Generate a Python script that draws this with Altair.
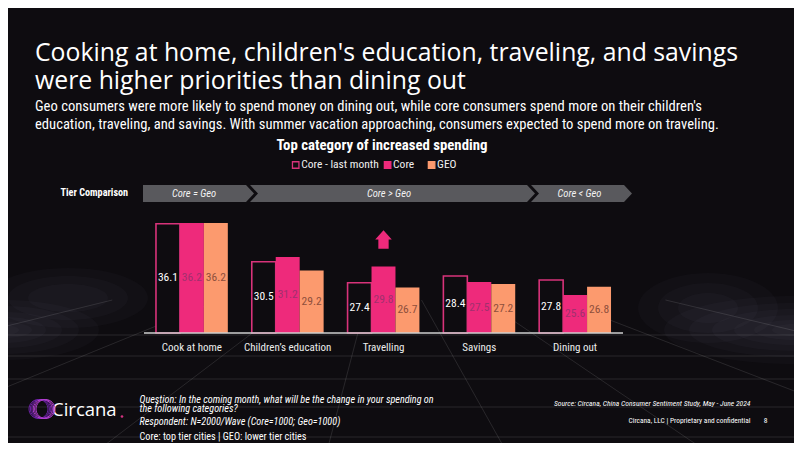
import altair as alt
import pandas as pd

# ---------------- data ----------------
categories = ["Cook at home", "Children’s education", "Travelling", "Savings", "Dining out"]
series = ["Core - last month", "Core", "GEO"]
core_last_month = [36.1, 30.5, 27.4, 28.4, 27.8]
core = [36.2, 31.2, 29.8, 27.5, 25.6]
geo = [36.2, 29.2, 26.7, 27.2, 26.8]
tiers = ["Core = Geo", "Core > Geo", "Core < Geo"]
arrow_category = "Travelling"
arrow_series = "Core"

title_lines = [
    "Cooking at home, children's education, traveling, and savings",
    "were higher priorities than dining out",
]
subtitle_lines = [
    "Geo consumers were more likely to spend money on dining out, while core consumers spend more on their children's",
    "education, traveling, and savings. With summer vacation approaching, consumers expected to spend more on traveling.",
]
chart_title = "Top category of increased spending"
footer_question = [
    "Question: In the coming month, what will be the change in your spending on",
    "the following categories?",
]
footer_resp = "Respondent: N=2000/Wave  (Core=1000; Geo=1000)"
footer_core = "Core: top tier cities | GEO: lower tier cities"
source_text = "Source: Circana, China Consumer Sentiment Study, May - June 2024"
conf_text = "Circana, LLC  |  Proprietary and confidential"
page_no = "8"

rows = []
for i, c in enumerate(categories):
    for s, vals in zip(series, [core_last_month, core, geo]):
        rows.append({"Category": c, "Series": s, "Value": vals[i]})
df = pd.DataFrame(rows)

# ---------------- style ----------------
BG = "#0e0c10"
PINK = "#ee2a7b"
SALMON = "#fc9a6e"
OUTLINE = "#d8337a"
NARROW = "Roboto Condensed, Roboto, sans-serif"
TITLE_FONT = "Open Sans, sans-serif"
W, H = 786, 435

xscale = alt.Scale(domain=categories, range=[136, 615], paddingInner=0.25, paddingOuter=0.125)
yscale = alt.Scale(domain=[20, 40], range=[325, 189.2])
xoff = alt.Scale(domain=series, paddingInner=0, paddingOuter=0)

X = alt.X("Category:N", scale=xscale, axis=None, sort=categories)
XO = alt.XOffset("Series:N", scale=xoff, sort=series)

base = alt.Chart(df)
one = pd.DataFrame({"a": [0]})


def ellipse(rx, ry):
    return f"M{-rx},0 A{rx},{ry} 0 1,0 {rx},0 A{rx},{ry} 0 1,0 {-rx},0 Z"


# smoky glows (decoration)
glows = []
for cx, cy, sizes in [(-4, 322, [(95, 30), (75, 24), (58, 18), (42, 13), (28, 8), (15, 5)]),
                      (786, 322, [(130, 34), (105, 27), (82, 21), (60, 15), (40, 10), (22, 6)]),
                      (60, 290, [(80, 30), (60, 22), (40, 14)]),
                      (700, 300, [(70, 35), (50, 25), (30, 15)])]:
    for rx, ry in sizes:
        glows.append(
            alt.Chart(one).mark_point(
                shape=ellipse(rx, ry), size=4, filled=True, fill="#b8a8cc", opacity=0.028, strokeWidth=0
            ).encode(x=alt.value(cx), y=alt.value(cy))
        )

# background perspective grid (decoration)
vp = (384, 233)
bottoms = [-500, -150, 97, 327, 506, 706, 950, 1300]
segs = []
for xb in bottoms:
    t = (300 - vp[1]) / (451 - vp[1])
    x_top = vp[0] + (xb - vp[0]) * t
    segs.append(f"M{x_top - 8:.1f},{300 - 8} L{xb - 8:.1f},{451 - 8}")
for yy in [335, 356, 379, 407, 437]:
    segs.append(f"M-10,{yy - 8} L800,{yy - 8}")
grid_path = " ".join(segs)
grid = alt.Chart(one).mark_point(
    shape=grid_path, size=4, filled=False, stroke="#ffffff", strokeOpacity=0.11, strokeWidth=1, opacity=1
).encode(x=alt.value(0), y=alt.value(0))

# tier chevrons
chev_path = (
    "M135,177 L238,177 L246,185.5 L238,194 L135,194 Z "
    "M242,177 L519,177 L527,185.5 L519,194 L242,194 L250,185.5 Z "
    "M523,177 L616,177 L624,185.5 L616,194 L523,194 L531,185.5 Z"
)
chev = alt.Chart(one).mark_point(
    shape=chev_path, size=4, filled=True, fill="#59595d", strokeWidth=0, opacity=1
).encode(x=alt.value(0), y=alt.value(0))

tier_x = [186, 381, 571.5]
tier_layers = [
    alt.Chart(pd.DataFrame({"Tier": [t]})).mark_text(
        font=NARROW, fontSize=10.5, fontStyle="italic", color="#f2f2f2", baseline="middle", align="center"
    ).encode(x=alt.value(xx), y=alt.value(185.5), text="Tier:N")
    for t, xx in zip(tiers, tier_x)
]
tier_label = alt.Chart(pd.DataFrame({"t": ["Tier Comparison"]})).mark_text(
    font=NARROW, fontSize=10.2, fontWeight="bold", color="#ffffff", align="left", baseline="middle"
).encode(x=alt.value(52.5), y=alt.value(185), text="t:N")

# bars
bars = base.transform_filter(alt.datum.Series != "Core - last month").mark_bar().encode(
    x=X, xOffset=XO,
    y=alt.Y("Value:Q", scale=yscale, axis=None),
    y2=alt.datum(20),
    fill=alt.Fill("Series:N", scale=alt.Scale(domain=series, range=[BG, PINK, SALMON]), legend=None),
)
outline = base.transform_filter(alt.datum.Series == "Core - last month").mark_bar(
    fill=BG, stroke=OUTLINE, strokeWidth=1.6
).encode(
    x=X, xOffset=XO,
    y=alt.Y("Value:Q", scale=yscale, axis=None),
    y2=alt.datum(20),
)
labels = base.transform_calculate(mid="(datum.Value + 20) / 2").mark_text(
    font=NARROW, fontSize=11.5, baseline="middle"
).encode(
    x=X, xOffset=XO,
    y=alt.Y("mid:Q", scale=yscale, axis=None),
    text=alt.Text("Value:Q", format=".1f"),
    color=alt.Color("Series:N", scale=alt.Scale(domain=series, range=["#ffffff", "#a1306e", "#8e4f3c"]), legend=None),
)
baseline = alt.Chart(one).mark_rule(color="#cfcfcf", strokeWidth=1.5).encode(
    x=alt.value(136), x2=alt.value(615), y=alt.datum(20)
)
cat_labels = alt.Chart(pd.DataFrame({"Category": categories})).mark_text(
    font=NARROW, fontSize=11, color="#ececec", baseline="middle"
).encode(x=X, y=alt.value(340), text="Category:N")

arrow_shape = "M0,-1 L0.9,0 L0.56,0 L0.56,1 L-0.56,1 L-0.56,0 L-0.9,0 Z"
arrow = alt.Chart(pd.DataFrame({"Category": [arrow_category], "Series": [arrow_series]})).mark_point(
    shape=arrow_shape, size=339, filled=True, fill=PINK, strokeWidth=0, opacity=1
).encode(x=X, xOffset=XO, y=alt.datum(33.77))

# legend (manual)
leg_sym_x = [287.7, 379.6, 423.6]
leg_layers = []
for s, xx, f, st in zip(series, leg_sym_x, [BG, PINK, SALMON], [OUTLINE, PINK, SALMON]):
    leg_layers.append(
        alt.Chart(one).mark_point(
            shape="square", size=42, filled=True, fill=f, stroke=st, strokeWidth=1.3, opacity=1
        ).encode(x=alt.value(xx), y=alt.value(157))
    )
    leg_layers.append(
        alt.Chart(pd.DataFrame({"s": [s]})).mark_text(
            font=NARROW, fontSize=11.5, color="#f0f0f0", align="left", baseline="middle"
        ).encode(x=alt.value(xx + 5.5), y=alt.value(157), text="s:N")
    )


def txt(s, x, y, size, font, color="#ffffff", align="left", style="normal", weight="normal", baseline="alphabetic"):
    return alt.Chart(pd.DataFrame({"t": [s]})).mark_text(
        font=font, fontSize=size, color=color, align=align, fontStyle=style, fontWeight=weight, baseline=baseline
    ).encode(x=alt.value(x), y=alt.value(y), text="t:N")


texts = [
    txt(title_lines[0], 27, 53, 24.8, TITLE_FONT),
    txt(title_lines[1], 27, 81, 24.8, TITLE_FONT),
    txt(subtitle_lines[0], 27, 102.5, 14.6, NARROW),
    txt(subtitle_lines[1], 27, 120.5, 14.6, NARROW),
    txt(chart_title, 374, 142, 14.8, NARROW, align="center", weight="bold"),
    txt(footer_question[0], 131.5, 391.5, 10.2, NARROW, style="italic", baseline="middle"),
    txt(footer_question[1], 131.5, 401, 10.2, NARROW, style="italic", baseline="middle"),
    txt(footer_resp, 131.5, 414, 10.2, NARROW, style="italic", baseline="middle"),
    txt(footer_core, 131.5, 428.7, 10.2, NARROW, baseline="middle"),
    txt(source_text, 742.5, 396.3, 7.6, NARROW, style="italic", align="right", baseline="middle"),
    txt(conf_text, 742.5, 412.7, 7.4, NARROW, align="right", baseline="middle"),
    txt(page_no, 757.7, 412.7, 7.6, NARROW, align="center", baseline="middle"),
    txt("Circana", 44, 402, 18.5, TITLE_FONT, baseline="middle"),
]

# logo rings
ring_a = " ".join(
    f"M{cx - 9.5},0 A9.5,9.5 0 1,0 {cx + 9.5},0 A9.5,9.5 0 1,0 {cx - 9.5},0" for cx in [-4, -2.6, -1.2]
)
ring_b = " ".join(
    f"M{cx - 9.5},0 A9.5,9.5 0 1,0 {cx + 9.5},0 A9.5,9.5 0 1,0 {cx - 9.5},0" for cx in [0.2, 1.6, 3.0]
)
logo_a = alt.Chart(one).mark_point(
    shape=ring_a, size=4, filled=False, stroke="#6f23a8", strokeWidth=1, opacity=1
).encode(x=alt.value(34.5), y=alt.value(401))
logo_b = alt.Chart(one).mark_point(
    shape=ring_b, size=4, filled=False, stroke="#b23fd0", strokeWidth=1, opacity=1
).encode(x=alt.value(34.5), y=alt.value(401))
dot = alt.Chart(one).mark_point(
    shape="circle", size=7, filled=True, fill="#d2327f", opacity=1
).encode(x=alt.value(114), y=alt.value(408.5))

chart = alt.layer(
    *glows, grid, chev, *tier_layers, tier_label, outline, bars, labels, baseline, cat_labels, arrow,
    *leg_layers, *texts, logo_a, logo_b, dot
).properties(
    width=W, height=H, padding=0, background=BG,
    autosize=alt.AutoSizeParams(type="none"),
).configure_view(stroke=None)

chart.save("out.html", embed_options={"renderer": "svg", "actions": False})
